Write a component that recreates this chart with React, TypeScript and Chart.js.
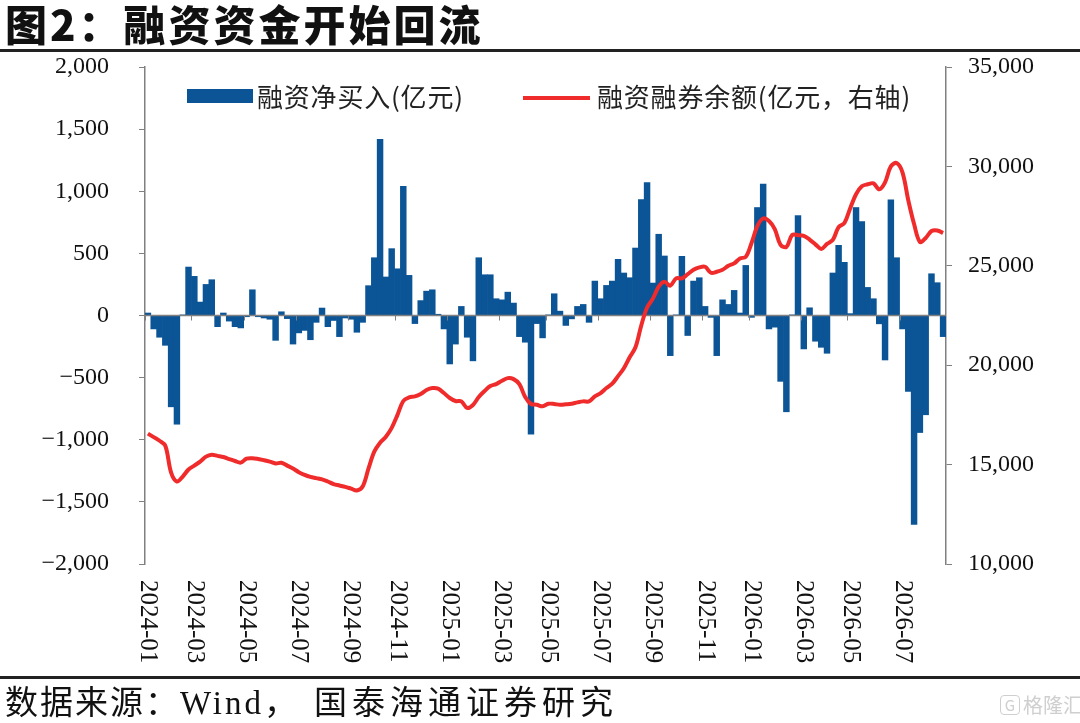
import React, { useEffect, useRef } from "react";
import { Chart, registerables } from "chart.js";

Chart.register(...registerables);

// ---------- data ----------
const startDate = "2024-01-05";
const weekCount = 138;

function buildWeeks(start: string, n: number): string[] {
  const out: string[] = [];
  const d0 = new Date(start + "T00:00:00Z");
  for (let i = 0; i < n; i++) {
    const d = new Date(d0.getTime() + i * 7 * 86400000);
    const y = d.getUTCFullYear();
    const m = String(d.getUTCMonth() + 1).padStart(2, "0");
    const day = String(d.getUTCDate()).padStart(2, "0");
    out.push(`${y}-${m}-${day}`);
  }
  return out;
}

const categories = buildWeeks(startDate, weekCount);

const tickLabels = [
  "2024-01", "2024-03", "2024-05", "2024-07", "2024-09", "2024-11",
  "2025-01", "2025-03", "2025-05", "2025-07", "2025-09", "2025-11",
  "2026-01", "2026-03", "2026-05", "2026-07",
];

// 融资净买入 (亿元)
const netBuy = [
  20, -108, -175, -240, -735, -875, 5, 390, 315, 108,
  250, 288, -90, 20, -45, -90, -100, -10, 207, -10,
  -20, -30, -200, 30, -25, -230, -140, -120, -195, -55,
  60, -90, -40, -170, -20, -30, -135, -55, 240, 465,
  1418, 310, 538, 376, 1040, 323, -65, 120, 196, 207,
  10, -108, -390, -230, 73, -175, -365, 465, 328, 328,
  135, 126, 188, 100, -170, -215, -955, -65, -180, 5,
  175, 35, -80, -27, 73, 89, -55, 277, 135, 242,
  277, 452, 342, 304, 543, 933, 1070, 261, 654, 479,
  -323, 5, 476, -161, 277, 304, 73, -15, -323, 126,
  89, 202, 20, 403, -15, 869, 1057, -108, -94, -530,
  -775, 5, 804, -269, 62, -207, -256, -304, 342, 565,
  428, 15, 869, 756, 226, 135, -67, -358, 931, 465,
  -108, -611, -1681, -942, -799, 336, 264, -170,
];

// 融资融券余额 (亿元, 右轴)
const marginBalance = [
  16560, 16380, 16200, 15950, 14600, 14150, 14400, 14750, 14950, 15150,
  15400, 15500, 15440, 15380, 15280, 15180, 15100, 15300, 15320, 15280,
  15220, 15150, 15060, 15090, 14950, 14800, 14620, 14480, 14380, 14320,
  14260, 14150, 14020, 13950, 13880, 13790, 13700, 13900, 14800, 15650,
  16100, 16400, 16850, 17500, 18200, 18380, 18430, 18550, 18750, 18850,
  18820, 18600, 18350, 18200, 18180, 17850, 18000, 18400, 18700, 18950,
  19050, 19220, 19350, 19300, 19050, 18400, 18050, 18010, 17930, 18060,
  18050, 18010, 18030, 18060, 18130, 18180, 18180, 18430, 18600, 18850,
  19070, 19450, 19850, 20400, 20900, 22000, 22900, 23350, 23950, 24200,
  24000, 24370, 24370, 24580, 24800, 24920, 24950, 24650, 24700, 24800,
  25000, 25120, 25370, 25450, 26150, 27000, 27380, 27250, 26850, 26050,
  25950, 26550, 26540, 26500, 26320, 26080, 25850, 26100, 26300, 26950,
  27150, 27900, 28600, 29000, 29100, 29150, 28850, 29200, 30000, 30170,
  29700, 28300, 27100, 26200, 26400, 26750, 26780, 26650,
];

const seriesNames = ["融资净买入(亿元)", "融资融券余额(亿元，右轴)"];

// ---------- style ----------
const BAR_COLOR = "#0B5496";
const LINE_COLOR = "#EF2B2B";
const AXIS_COLOR = "#808080";
const NUM_FONT = "'Liberation Serif', 'Times New Roman', serif";
const CJK_FONT = "'Noto Sans CJK SC', sans-serif";

function fmt(v: number): string {
  const s = Math.abs(v).toLocaleString("en-US");
  return v < 0 ? "−" + s : s;
}

function tickIndex(label: string): number {
  return categories.findIndex((c) => c.startsWith(label));
}

const decorPlugin = {
  id: "decor",
  afterDatasetDraw(chart: any, args: any) {
    if (args.index !== 0) return;
    const { ctx, chartArea } = chart;
    const y = chart.scales.y.getPixelForValue(0);
    const xs = chart.scales.x;
    const slot = (chartArea.right - chartArea.left) / categories.length;
    ctx.save();
    ctx.strokeStyle = AXIS_COLOR;
    ctx.lineWidth = 1.5;
    ctx.beginPath();
    ctx.moveTo(chartArea.left, y);
    ctx.lineTo(chartArea.right, y);
    ctx.stroke();
    ctx.lineWidth = 1;
    ctx.beginPath();
    tickLabels.forEach((t) => {
      const idx = tickIndex(t);
      if (idx < 0) return;
      const px = Math.round(xs.getPixelForValue(idx) - slot / 2) + 0.5;
      ctx.moveTo(px, y);
      ctx.lineTo(px, y + 5);
    });
    ctx.stroke();
    ctx.restore();
  },
  afterDraw(chart: any) {
    const { ctx, chartArea } = chart;
    const xs = chart.scales.x;
    ctx.save();
    ctx.font = `25px ${NUM_FONT}`;
    ctx.fillStyle = "#111";
    ctx.textAlign = "left";
    ctx.textBaseline = "middle";
    tickLabels.forEach((t) => {
      const idx = tickIndex(t);
      if (idx < 0) return;
      const px = xs.getPixelForValue(idx);
      ctx.save();
      ctx.translate(px, chartArea.bottom + 16);
      ctx.rotate(Math.PI / 2);
      ctx.fillText(t, 0, 0);
      ctx.restore();
    });
    ctx.restore();
  },
};

function ChartCanvas() {
  const ref = useRef<HTMLCanvasElement | null>(null);
  useEffect(() => {
    if (!ref.current) return;
    const chart = new Chart(ref.current, {
      type: "bar",
      data: {
        labels: categories,
        datasets: [
          {
            type: "bar",
            label: seriesNames[0],
            data: netBuy,
            backgroundColor: BAR_COLOR,
            borderWidth: 0,
            barPercentage: 1,
            categoryPercentage: 1,
            yAxisID: "y",
            order: 2,
          } as any,
          {
            type: "line",
            label: seriesNames[1],
            data: marginBalance,
            borderColor: LINE_COLOR,
            backgroundColor: LINE_COLOR,
            borderWidth: 4,
            pointRadius: 0,
            tension: 0.35,
            yAxisID: "y1",
            order: 1,
          } as any,
        ],
      },
      options: {
        responsive: false,
        animation: false,
        devicePixelRatio: 1,
        layout: { padding: { top: 67, bottom: 0, left: 0, right: 0 } },
        plugins: {
          legend: { display: false },
          tooltip: { enabled: false },
        },
        scales: {
          x: {
            type: "category",
            offset: true,
            ticks: { display: false },
            grid: { display: false },
            border: { display: false },
            afterFit(s: any) {
              s.height = 159;
            },
          },
          y: {
            position: "left",
            min: -2000,
            max: 2000,
            ticks: {
              stepSize: 500,
              padding: 30,
              color: "#111",
              font: { family: NUM_FONT, size: 24 },
              callback: (v: any) => fmt(Number(v)),
            },
            grid: {
              display: true,
              drawOnChartArea: false,
              drawTicks: true,
              tickLength: 6,
              color: AXIS_COLOR,
            },
            border: { display: true, color: AXIS_COLOR, width: 1.5 },
            afterFit(s: any) {
              s.width = 145;
            },
          },
          y1: {
            position: "right",
            min: 10000,
            max: 35000,
            ticks: {
              stepSize: 5000,
              padding: 16,
              color: "#111",
              font: { family: NUM_FONT, size: 24 },
              callback: (v: any) => fmt(Number(v)),
            },
            grid: {
              display: true,
              drawOnChartArea: false,
              drawTicks: true,
              tickLength: 6,
              color: AXIS_COLOR,
            },
            border: { display: true, color: AXIS_COLOR, width: 1.5 },
            afterFit(s: any) {
              s.width = 134;
            },
          },
        },
      } as any,
      plugins: [decorPlugin],
    });
    return () => chart.destroy();
  }, []);
  return (
    <canvas
      ref={ref}
      width={1080}
      height={723}
      style={{ position: "absolute", left: 0, top: 0, width: 1080, height: 723 }}
    />
  );
}

export default function App() {
  const legendText: React.CSSProperties = {
    position: "absolute",
    top: 78,
    height: 36,
    lineHeight: "36px",
    fontFamily: CJK_FONT,
    fontSize: 26,
    letterSpacing: 0.8,
    color: "#222",
    whiteSpace: "nowrap",
  };
  return (
    <div
      style={{
        position: "absolute",
        left: 0,
        top: 0,
        width: 1080,
        height: 723,
        background: "#fff",
        overflow: "hidden",
      }}
    >
      <ChartCanvas />
      <div
        style={{
          position: "absolute",
          left: 5,
          top: -1,
          fontFamily: CJK_FONT,
          fontWeight: 900,
          fontSize: 42,
          lineHeight: "48px",
          letterSpacing: 3,
          color: "#111",
          whiteSpace: "nowrap",
        }}
      >
        图2：融资资金开始回流
      </div>
      <div style={{ position: "absolute", left: 0, top: 49, width: 1080, height: 2.5, background: "#222" }} />
      {/* legend */}
      <div style={{ position: "absolute", left: 187, top: 89, width: 66, height: 14, background: BAR_COLOR }} />
      <div style={{ ...legendText, left: 257 }}>{seriesNames[0]}</div>
      <div style={{ position: "absolute", left: 523, top: 96, width: 67, height: 4, background: LINE_COLOR }} />
      <div style={{ ...legendText, left: 597 }}>{seriesNames[1]}</div>
      <div style={{ position: "absolute", left: 0, top: 676, width: 1080, height: 2.5, background: "#222" }} />
      <div
        style={{
          position: "absolute",
          left: 5,
          top: 682,
          height: 42,
          lineHeight: "42px",
          fontFamily: `'Liberation Serif', ${CJK_FONT}`,
          fontSize: 33,
          color: "#111",
          whiteSpace: "nowrap",
        }}
      >
        <span style={{ letterSpacing: 2 }}>数据来源：</span>
        <span style={{ letterSpacing: 3 }}>Wind</span>
        <span style={{ letterSpacing: 17 }}>，</span>
        <span style={{ letterSpacing: 5 }}>国泰海通证券研究</span>
      </div>
      <div
        style={{
          position: "absolute",
          left: 1000,
          top: 692,
          height: 26,
          lineHeight: "26px",
          fontFamily: CJK_FONT,
          fontSize: 20,
          color: "#cfcfcf",
          whiteSpace: "nowrap",
          display: "flex",
          alignItems: "center",
          gap: 3,
        }}
      >
        <span
          style={{
            display: "inline-block",
            width: 20,
            height: 20,
            lineHeight: "18px",
            border: "1.5px solid #cfcfcf",
            borderRadius: 4,
            textAlign: "center",
            fontSize: 15,
            boxSizing: "border-box",
          }}
        >
          G
        </span>
        格隆汇
      </div>
    </div>
  );
}
